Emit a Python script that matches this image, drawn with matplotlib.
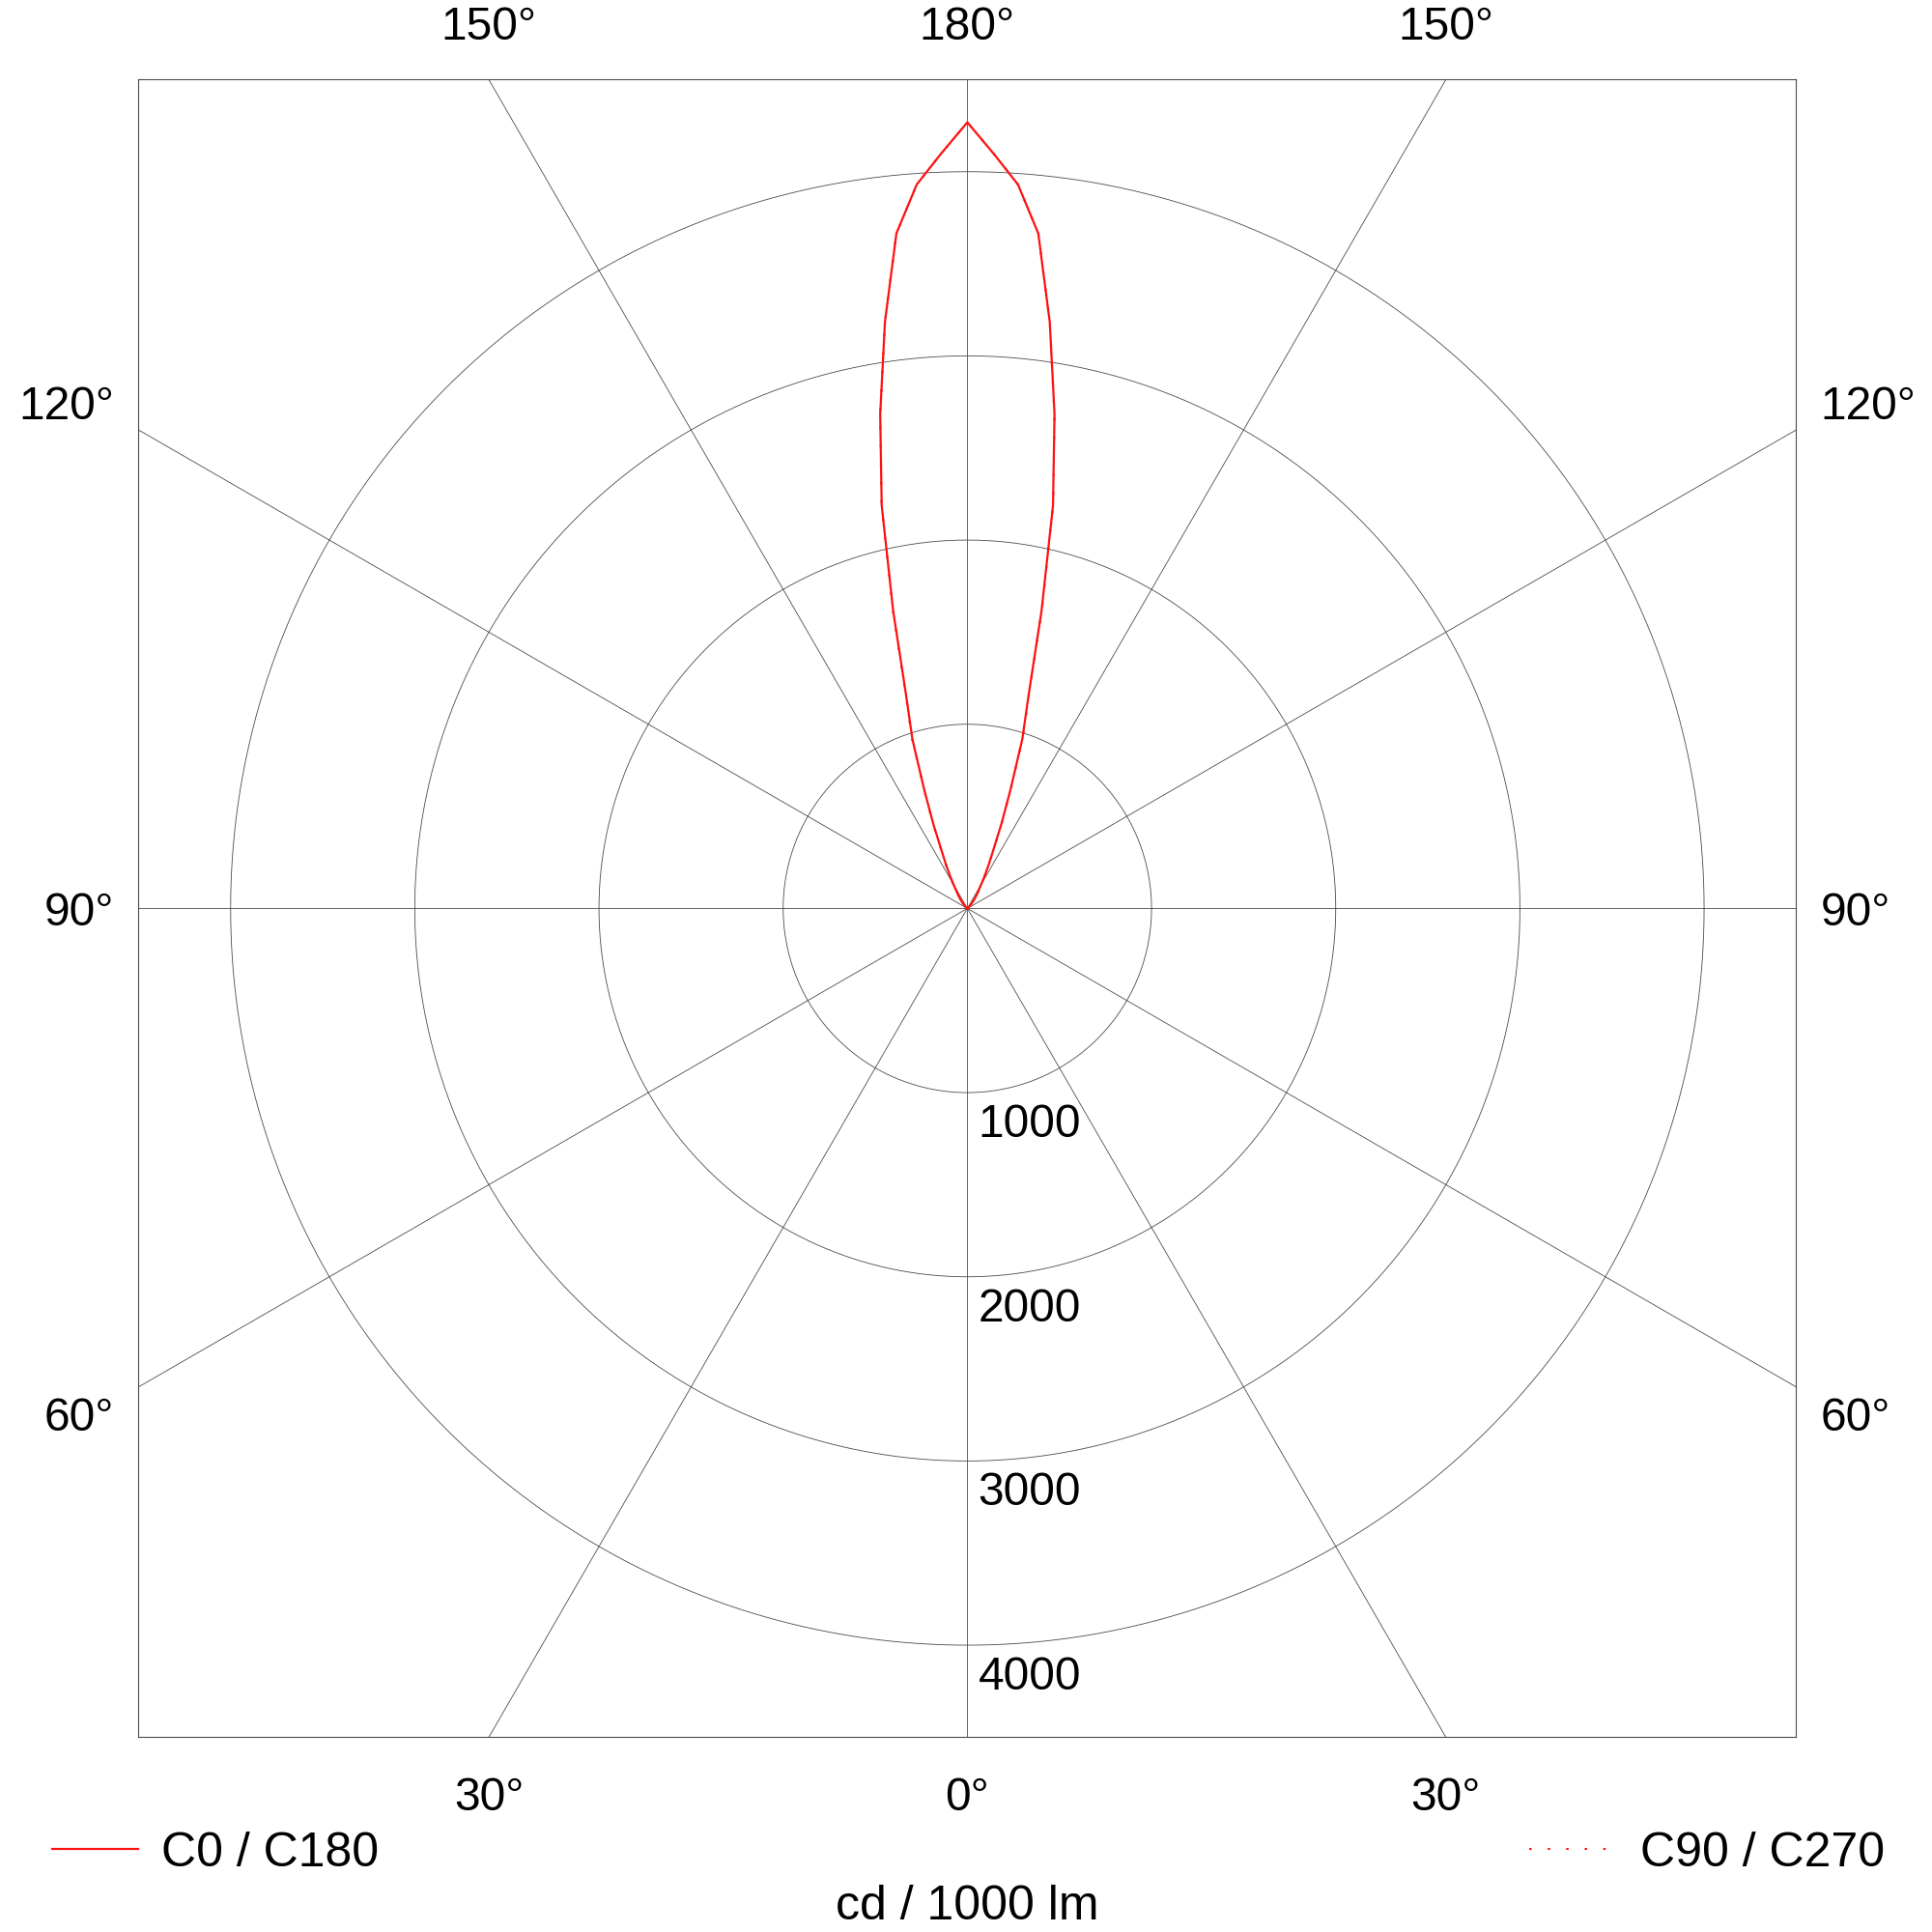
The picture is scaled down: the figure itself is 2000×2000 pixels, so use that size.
import numpy as np
import matplotlib
matplotlib.use("Agg")
import matplotlib.pyplot as plt
from matplotlib.lines import Line2D

plt.rcParams['font.family'] = ['Liberation Sans', 'DejaVu Sans']

# ---- data (gamma angle in degrees, luminous intensity in cd / 1000 lm) ----
gamma = [0, 10, 20, 30, 40, 50, 60, 70, 80, 90, 100, 110, 120, 125, 130, 135, 140, 145,
         150, 152, 154, 156, 158, 160, 162, 164, 166, 168, 170, 172, 174, 176, 178, 180]
c0_c180 = [0, 0, 0, 0, 0, 0, 0, 0, 0, 0, 0, 1, 3, 5, 10, 20, 45, 85,
           150, 200, 265, 345, 491, 682, 965, 1209, 1665, 2237, 2725, 3215, 3685, 3940, 4100, 4268]
c90_c270 = [0, 0, 0, 0, 0, 0, 0, 0, 0, 0, 0, 1, 3, 6, 11, 22, 48, 90,
            158, 210, 275, 355, 500, 690, 975, 1220, 1675, 2240, 2725, 3215, 3685, 3940, 4100, 4268]

ring_values = [1000, 2000, 3000, 4000]
ring_labels = ["1000", "2000", "3000", "4000"]
top_labels = ["150°", "180°", "150°"]
bottom_labels = ["30°", "0°", "30°"]
side_labels = ["120°", "90°", "60°"]
legend_labels = ["C0 / C180", "C90 / C270"]
unit_label = "cd / 1000 lm"

R = 4500
grid_col = "#4a4a4a"
red = "#ff1010"
dots = (0, (1.2, 8))

fig = plt.figure(figsize=(20, 20), dpi=100)
ax = fig.add_axes([0.0717, 0.1008, 0.858, 0.858])
ax.set_xlim(-R, R)
ax.set_ylim(-R, R)
ax.set_aspect('equal')
ax.set_xticks([])
ax.set_yticks([])
for s in ax.spines.values():
    s.set_color(grid_col)
    s.set_linewidth(0.8)

# rings
t = np.linspace(0, 2 * np.pi, 721)
for r in ring_values:
    ax.plot(r * np.cos(t), r * np.sin(t), color=grid_col, lw=0.6, zorder=1)

# spokes (gamma measured from downward direction)
for a in range(0, 360, 30):
    ar = np.radians(a)
    L = 10000
    ax.plot([0, L * np.sin(ar)], [0, -L * np.cos(ar)], color=grid_col, lw=0.6, zorder=1)

# curves
g = np.radians(np.array(gamma, dtype=float))
def plane_xy(vals_right, vals_left):
    vr = np.array(vals_right, dtype=float)
    vl = np.array(vals_left, dtype=float)
    xr, yr = vr * np.sin(g), -vr * np.cos(g)
    xl, yl = -vl[::-1] * np.sin(g[::-1]), -vl[::-1] * np.cos(g[::-1])
    return np.concatenate([xr, xl]), np.concatenate([yr, yl])

x0, y0 = plane_xy(c0_c180, c0_c180)
x9, y9 = plane_xy(c90_c270, c90_c270)
ax.plot(x9, y9, color=red, lw=1.5, linestyle=dots, zorder=3)
ax.plot(x0, y0, color=red, lw=1.6, zorder=4)

fs = 34.5
px = 2 * R / 1716.0  # data units per pixel

# ring labels
for r, lab in zip(ring_values, ring_labels):
    ax.text(11 * px, -(r + 46 * px), lab, fontsize=fs, ha='left', va='baseline', zorder=5)

# angle labels
tx = R * np.tan(np.radians(30))
for xx, lab in zip([-tx, 0, tx], top_labels):
    ax.text(xx, R + 41 * px, lab, fontsize=fs, ha='center', va='baseline', clip_on=False)
for xx, lab in zip([-tx, 0, tx], bottom_labels):
    ax.text(xx, -R - 75.5 * px, lab, fontsize=fs, ha='center', va='baseline', clip_on=False)
side_y = 523.5 * px
for yy, lab in zip([side_y, 0, -side_y], side_labels):
    ax.text(-R - 25 * px, yy - 17.5 * px, lab, fontsize=fs, ha='right', va='baseline', clip_on=False)
    ax.text(R + 25 * px, yy - 17.5 * px, lab, fontsize=fs, ha='left', va='baseline', clip_on=False)

# legend
fig.add_artist(Line2D([0.0268, 0.0715], [0.043, 0.043], color=red, lw=1.6, transform=fig.transFigure))
fig.text(0.0833, 0.034, legend_labels[0], fontsize=36, ha='left', va='baseline')
fig.add_artist(Line2D([0.7915, 0.8315], [0.043, 0.043], color=red, lw=1.5,
                      linestyle=dots, transform=fig.transFigure))
fig.text(0.849, 0.034, legend_labels[1], fontsize=36, ha='left', va='baseline')
fig.text(0.5006, 0.0065, unit_label, fontsize=36, ha='center', va='baseline')

fig.savefig("out.png", dpi=100)
